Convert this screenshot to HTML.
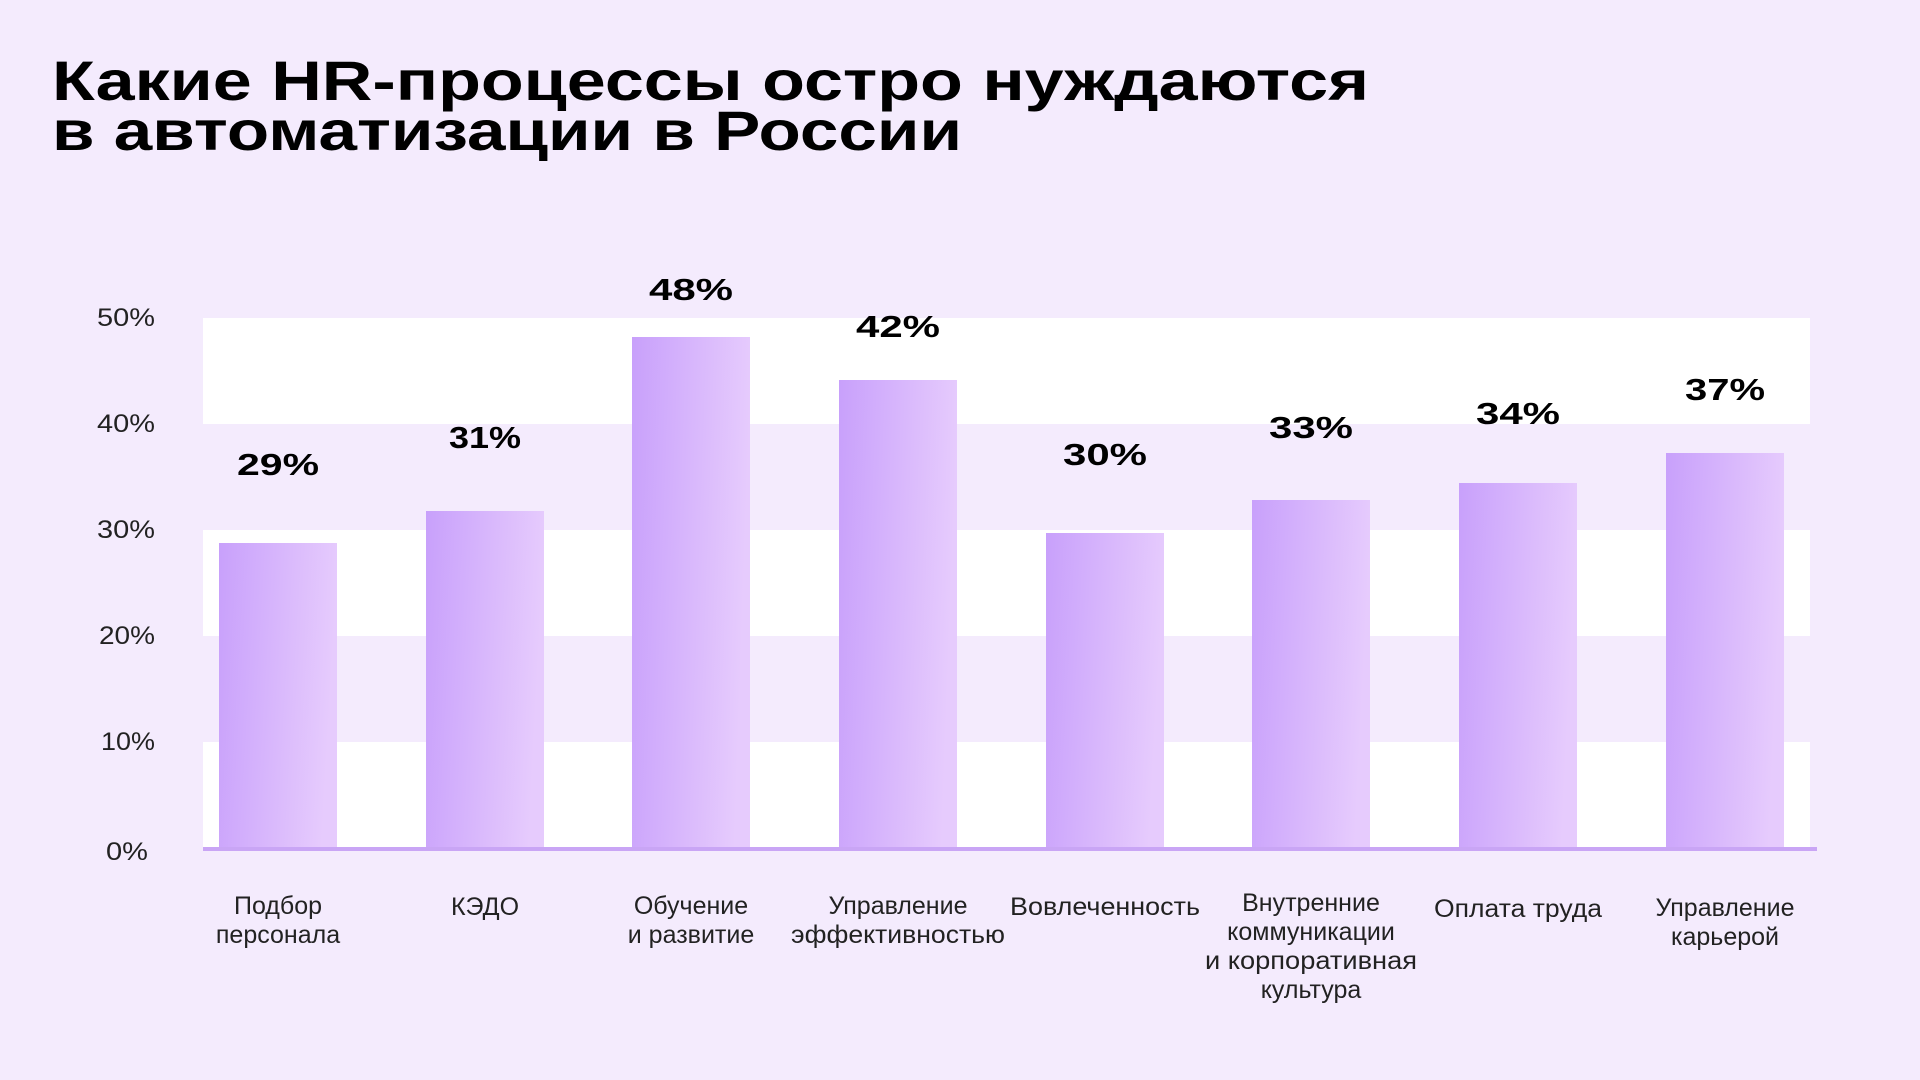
<!DOCTYPE html>
<html><head><meta charset="utf-8"><style>
html,body{margin:0;padding:0;background:#f4ebfd;}
svg{display:block;}
</style></head><body>
<svg width="1920" height="1080" viewBox="0 0 1920 1080" xmlns="http://www.w3.org/2000/svg" font-family="Liberation Sans, sans-serif">
<defs>
<linearGradient id="g" x1="0" y1="0" x2="1" y2="0.15">
<stop offset="0" stop-color="#c8a0fb"/><stop offset="1" stop-color="#e6cbfd"/>
</linearGradient>
</defs>
<rect width="1920" height="1080" fill="#f4ebfd"/>
<text x="52" y="100" font-size="56" font-weight="bold" fill="#000" textLength="1317" lengthAdjust="spacingAndGlyphs">Какие HR-процессы остро нуждаются</text>
<text x="52" y="150" font-size="56" font-weight="bold" fill="#000" textLength="910" lengthAdjust="spacingAndGlyphs">в автоматизации в России</text>
<rect x="203" y="318" width="1607" height="106" fill="#fff"/>
<rect x="203" y="530" width="1607" height="106" fill="#fff"/>
<rect x="203" y="742" width="1607" height="106" fill="#fff"/>
<g font-size="25" fill="#222" text-anchor="end">
<text x="155" y="326" textLength="58" lengthAdjust="spacingAndGlyphs">50%</text>
<text x="155" y="432" textLength="58" lengthAdjust="spacingAndGlyphs">40%</text>
<text x="155" y="538" textLength="58" lengthAdjust="spacingAndGlyphs">30%</text>
<text x="155" y="644" textLength="56" lengthAdjust="spacingAndGlyphs">20%</text>
<text x="155" y="750" textLength="54" lengthAdjust="spacingAndGlyphs">10%</text>
<text x="148" y="860" textLength="42" lengthAdjust="spacingAndGlyphs">0%</text>
</g>
<g fill="url(#g)">
<rect x="219" y="543" width="118" height="306"/>
<rect x="426" y="511" width="118" height="338"/>
<rect x="632" y="337" width="118" height="512"/>
<rect x="839" y="380" width="118" height="469"/>
<rect x="1046" y="533" width="118" height="316"/>
<rect x="1252" y="500" width="118" height="349"/>
<rect x="1459" y="483" width="118" height="366"/>
<rect x="1666" y="453" width="118" height="396"/>
</g>
<rect x="203" y="847" width="1614" height="4" fill="#c9a5f5"/>
<g font-size="31" font-weight="bold" fill="#000" text-anchor="middle">
<text x="278" y="475" textLength="82" lengthAdjust="spacingAndGlyphs">29%</text>
<text x="485" y="448" textLength="72" lengthAdjust="spacingAndGlyphs">31%</text>
<text x="691" y="300" textLength="84" lengthAdjust="spacingAndGlyphs">48%</text>
<text x="898" y="337" textLength="84" lengthAdjust="spacingAndGlyphs">42%</text>
<text x="1105" y="465" textLength="84" lengthAdjust="spacingAndGlyphs">30%</text>
<text x="1311" y="438" textLength="84" lengthAdjust="spacingAndGlyphs">33%</text>
<text x="1518" y="424" textLength="84" lengthAdjust="spacingAndGlyphs">34%</text>
<text x="1725" y="400" textLength="80" lengthAdjust="spacingAndGlyphs">37%</text>
</g>
<g font-size="25" fill="#222" text-anchor="middle">
<text x="278" y="914">Подбор</text><text x="278" y="943">персонала</text>
<text x="485" y="915">КЭДО</text>
<text x="691" y="914">Обучение</text><text x="691" y="943">и развитие</text>
<text x="898" y="914">Управление</text><text x="898" y="943" textLength="214" lengthAdjust="spacingAndGlyphs">эффективностью</text>
<text x="1105" y="915" textLength="190" lengthAdjust="spacingAndGlyphs">Вовлеченность</text>
<text x="1311" y="911">Внутренние</text><text x="1311" y="940">коммуникации</text><text x="1311" y="969" textLength="212" lengthAdjust="spacingAndGlyphs">и корпоративная</text><text x="1311" y="998">культура</text>
<text x="1518" y="917" textLength="168" lengthAdjust="spacingAndGlyphs">Оплата труда</text>
<text x="1725" y="916">Управление</text><text x="1725" y="945">карьерой</text>
</g>
</svg>
</body></html>
